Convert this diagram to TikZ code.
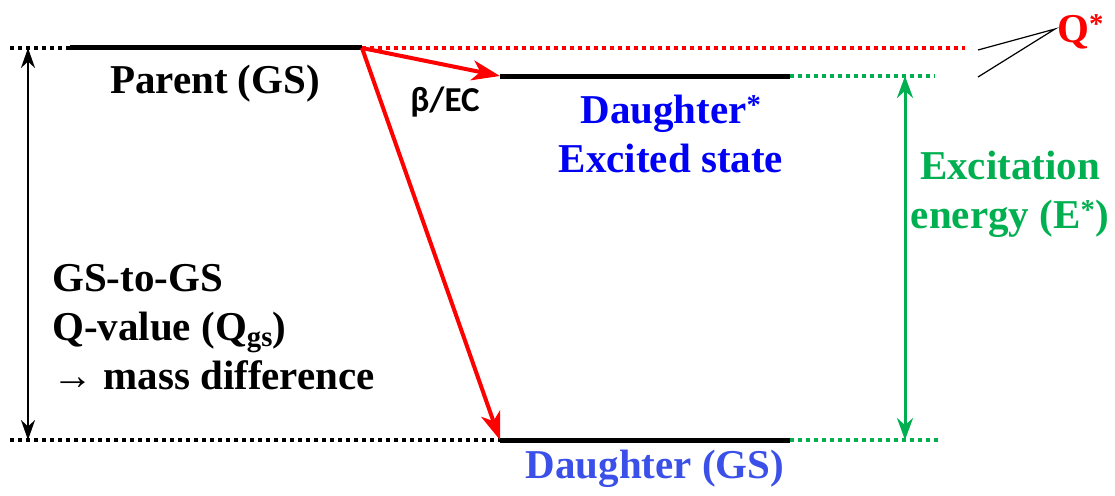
\documentclass[tikz,border=0pt]{standalone}
\usepackage{fontspec}
\setmainfont{Liberation Serif}
\newfontfamily\calfont{Carlito}
\usetikzlibrary{arrows.meta}
\definecolor{qred}{RGB}{255,0,0}
\definecolor{egreen}{RGB}{0,176,80}
\definecolor{dblue}{RGB}{0,0,245}
\definecolor{gblue}{RGB}{58,80,232}
\tikzset{
  level/.style={line width=5pt},
  dotlev/.style={line width=3.5pt, dash pattern=on 4pt off 4pt},
  lbl/.style={font=\fontsize{41}{48}\selectfont\bfseries, inner sep=0pt, align=center},
  blackarr/.style={line width=2.5pt, {Stealth[length=20pt,width=14pt]}-{Stealth[length=20pt,width=14pt]}},
  greenarr/.style={line width=3pt, draw=egreen, {Stealth[length=22pt,width=16pt]}-{Stealth[length=22pt,width=16pt]}},
  redarr/.style={line width=4pt, draw=qred, -{Stealth[length=28pt,width=20pt,inset=8pt]}},
  thin/.style={line width=1.2pt}
}
\begin{document}
\begin{tikzpicture}[x=1pt,y=-1pt]
\useasboundingbox (0,0) rectangle (1115,495);
% coordinates
\coordinate (pL) at (10,48);
\coordinate (pA) at (70,48);
\coordinate (pB) at (362,48);
\coordinate (pR) at (965,48);
\coordinate (eA) at (500,76);
\coordinate (eB) at (790,76);
\coordinate (eR) at (935,76);
\coordinate (gL) at (10,440);
\coordinate (gA) at (500,440);
\coordinate (gB) at (790,440);
\coordinate (gR) at (940,440);
\coordinate (aT) at (28,48);
\coordinate (aB) at (28,440);
\coordinate (xT) at (905,76);
\coordinate (xB) at (905,440);
\coordinate (q1) at (978,50);
\coordinate (q2) at (978,77);
\coordinate (qt) at (1055,29);
% levels
\draw[dotlev] (pL) -- (pA);
\draw[level] (pA) -- (pB);
\draw[dotlev, draw=qred] (pB) -- (pR);
\draw[level] (eA) -- (eB);
\draw[dotlev, draw=egreen] (eB) -- (eR);
\draw[dotlev] (gL) -- (gA);
\draw[level] (gA) -- (gB);
\draw[dotlev, draw=egreen] (gB) -- (gR);
% arrows
\draw[blackarr] (aT) -- (aB);
\draw[greenarr] (xT) -- (xB);
\draw[redarr] (pB) -- (eA);
\draw[redarr] (pB) -- (gA);
\draw[thin] (q1) -- (qt) -- (q2);
% labels
\node[lbl, text=qred, anchor=west] (qs) at (1057,32) {Q\textsuperscript{*}};
\node[lbl] (parent) at (215,84) {Parent (GS)};
\node[lbl, font=\fontsize{35}{40}\selectfont\bfseries\calfont] (beta) at (445,102) {β/EC};
\node[lbl, text=dblue] (dex) at (671,134) {Daughter\textsuperscript{*}\\[1pt]Excited state};
\node[lbl, text=egreen] (exc) at (1010,194) {Excitation\\[1pt]energy (E\textsuperscript{*})};
\node[lbl, align=left, anchor=west] (qgs) at (52,327) {GS-to-GS\\[1pt]Q-value (Q\textsubscript{gs})\\[1pt]→ mass difference};
\node[lbl, text=gblue] (dgs) at (655,469) {Daughter (GS)};
\end{tikzpicture}
\end{document}
